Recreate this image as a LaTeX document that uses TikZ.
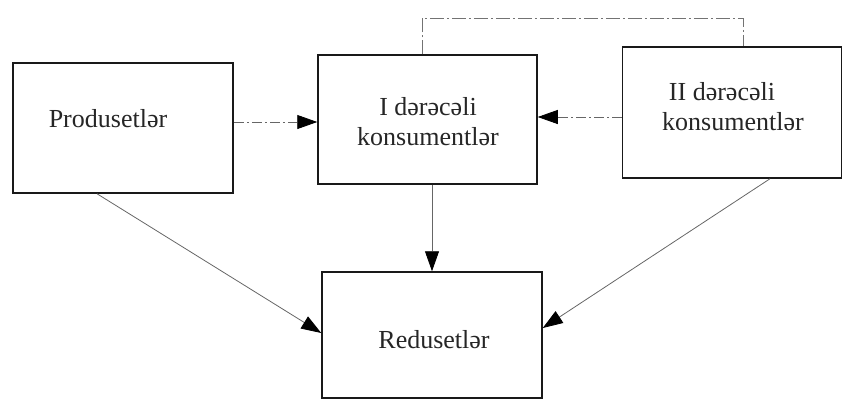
\documentclass[tikz,border=0pt]{standalone}
\usepackage{fontspec}
\setmainfont{Liberation Serif}
\usetikzlibrary{arrows.meta,calc}
\begin{document}
\begin{tikzpicture}[x=1pt,y=-1pt,
  box/.style={draw=black!90,line width=1.5pt,inner sep=0pt},
  lbl/.style={font=\fontsize{26}{28}\selectfont,text=black!85,inner sep=0pt,align=center},
  conn/.style={draw=black!60,line width=0.8pt,-{Triangle[length=20pt,width=14pt,fill=black,color=black]}},
  conndd/.style={conn,dash pattern=on 10pt off 3pt on 2pt off 3pt},
  bracket/.style={draw=black!55,line width=0.8pt,dash pattern=on 14pt off 3pt on 2pt off 3pt}]
\useasboundingbox (0,0) rectangle (843,400);
% boxes
\node[box,minimum width=220pt,minimum height=130pt] (prod) at (123,128) {};
\node[box,minimum width=219pt,minimum height=129pt] (c1) at (427.5,119.5) {};
\node[box,minimum width=219pt,minimum height=131pt] (c2) at (732,112.5) {};
\node[box,minimum width=220pt,minimum height=126pt] (red) at (432,335) {};
% labels
\node[lbl] (tprod) at (108,119) {Produsetlər};
\node[lbl] (tc1a) at (428,107) {I dərəcəli};
\node[lbl] (tc1b) at (428,137) {konsumentlər};
\node[lbl] (tc2a) at (722,92) {II dərəcəli};
\node[lbl] (tc2b) at (733,122) {konsumentlər};
\node[lbl] (tred) at (434,340) {Redusetlər};
% connector points
\coordinate (tl) at (422,18);
\coordinate (tr) at (743,18);
% connectors
\draw[conndd] (prod.east |- 0,122) -- (c1.west |- 0,122);
\draw[conndd] (c2.west |- 0,117) -- (c1.east |- 0,117);
\draw[conn] (c1.south -| 432,0) -- (red.north -| 432,0);
\draw[conn] (prod.south -| 97,0) -- (red.west |- 0,333);
\draw[conn] (c2.south -| 770,0) -- (red.east |- 0,328);
\draw[bracket] (c1.north -| tl) -- (tl) -- (tr) -- (c2.north -| tr);
\end{tikzpicture}
\end{document}
